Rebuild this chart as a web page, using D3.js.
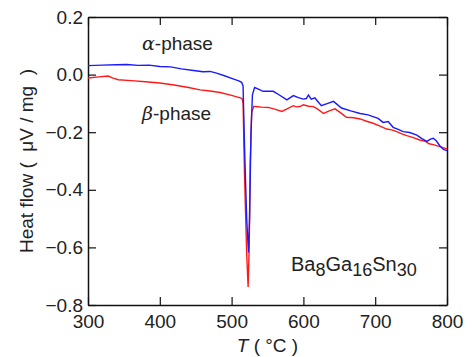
<!DOCTYPE html>
<html>
<head>
<meta charset="utf-8">
<script src="https://cdn.jsdelivr.net/npm/d3@7"></script>
<style>
  body { margin: 0; background: #fff; }
  text { font-family: "Liberation Sans", Arial, sans-serif; fill: #222; }
</style>
</head>
<body>
<svg id="chart" width="472" height="357"></svg>
<script>
// alpha-phase (blue) : [T, heat flow]
const alphaPhase = [
  [300, 0.031], [320, 0.033], [340, 0.034], [354, 0.035], [370, 0.032], [385, 0.033],
  [400, 0.028], [415, 0.027], [430, 0.020], [447, 0.014], [460, 0.010], [470, 0.011],
  [479, 0.005], [490, -0.004], [502, -0.015], [510, -0.022], [514, -0.027], [516, -0.04],
  [518, -0.25], [521, -0.5], [523.5, -0.618], [525, -0.5], [527, -0.2], [529, -0.07],
  [532, -0.045], [535, -0.048], [544, -0.058], [558, -0.058], [566, -0.07], [577, -0.088],
  [586, -0.073], [593, -0.08], [600, -0.085], [604, -0.083], [607, -0.071], [611, -0.085],
  [616, -0.081], [625, -0.108], [634, -0.100], [642, -0.093], [653, -0.116], [666, -0.126],
  [679, -0.135], [690, -0.14], [697, -0.146], [704, -0.152], [711, -0.166], [718, -0.163],
  [725, -0.183], [732, -0.19], [739, -0.198], [748, -0.201], [758, -0.210], [765, -0.222],
  [772, -0.232], [777, -0.224], [781, -0.221], [785, -0.230], [790, -0.247], [795, -0.260],
  [800, -0.264]
];

// beta-phase (red)
const betaPhase = [
  [300, -0.012], [315, -0.008], [328, -0.005], [335, -0.012], [342, -0.018], [360, -0.021],
  [380, -0.025], [400, -0.029], [420, -0.036], [440, -0.045], [456, -0.053], [470, -0.057],
  [484, -0.062], [500, -0.072], [512, -0.081], [514.5, -0.083], [516, -0.1], [518, -0.35],
  [521, -0.62], [523, -0.737], [524.5, -0.6], [526, -0.3], [528, -0.13], [531, -0.11],
  [533, -0.111], [542, -0.113], [551, -0.114], [560, -0.12], [570, -0.128], [578, -0.118],
  [586, -0.108], [590, -0.112], [595, -0.111], [600, -0.105], [607, -0.11], [614, -0.111],
  [620, -0.12], [628, -0.135], [636, -0.126], [644, -0.119], [652, -0.133], [660, -0.148],
  [670, -0.15], [679, -0.154], [688, -0.162], [697, -0.169], [706, -0.178], [716, -0.189],
  [723, -0.192], [730, -0.198], [737, -0.206], [744, -0.212], [752, -0.218], [762, -0.227],
  [770, -0.232], [775, -0.240], [781, -0.243], [790, -0.250], [800, -0.258]
];

const xTicks = [300, 400, 500, 600, 700, 800];
const yTicks = [0.2, 0.0, -0.2, -0.4, -0.6, -0.8];

const svg = d3.select("#chart");
const margin = { top: 17, right: 25, bottom: 52, left: 88 },
  width = 472 - margin.left - margin.right,
  height = 357 - margin.top - margin.bottom;

const g = svg.append("g")
  .attr("transform", "translate(" + margin.left + "," + margin.top + ")");

const x = d3.scaleLinear().domain([300, 800]).range([0, width]);
const y = d3.scaleLinear().domain([-0.8, 0.2]).range([height, 0]);

const tickLen = 8;

function styleAxis(sel) {
  sel.select(".domain").attr("stroke", "#111").attr("stroke-width", 1.5);
  sel.selectAll(".tick line").attr("stroke", "#111").attr("stroke-width", 1.2);
  sel.selectAll(".tick text")
    .style("font-size", "19px")
    .attr("fill", "#222");
}

// bottom axis
g.append("g")
  .attr("transform", "translate(0," + height + ")")
  .call(d3.axisBottom(x).tickValues(xTicks).tickSizeInner(-tickLen).tickSizeOuter(0).tickPadding(10).tickFormat(d3.format("d")))
  .call(styleAxis);

// top axis
g.append("g")
  .call(d3.axisTop(x).tickValues(xTicks).tickSizeInner(-tickLen).tickSizeOuter(0).tickFormat(""))
  .call(styleAxis);

// left axis
g.append("g")
  .call(d3.axisLeft(y).tickValues(yTicks).tickSizeInner(-tickLen).tickSizeOuter(0).tickPadding(5).tickFormat(d3.format(".1f")))
  .call(styleAxis);

// right axis
g.append("g")
  .attr("transform", "translate(" + width + ",0)")
  .call(d3.axisRight(y).tickValues(yTicks).tickSizeInner(-tickLen).tickSizeOuter(0).tickFormat(""))
  .call(styleAxis);

const line = d3.line()
  .x(function (d) { return x(d[0]); })
  .y(function (d) { return y(d[1]); });

g.append("path")
  .datum(betaPhase)
  .attr("fill", "none")
  .attr("stroke", "#ff1a1a")
  .attr("stroke-width", 1.4)
  .attr("d", line);

g.append("path")
  .datum(alphaPhase)
  .attr("fill", "none")
  .attr("stroke", "#1a1aff")
  .attr("stroke-width", 1.4)
  .attr("d", line);

// phase labels
const aLabel = g.append("text")
  .attr("x", 54)
  .attr("y", 33)
  .style("font-size", "19px");
aLabel.append("tspan").style("font-family", "'DejaVu Serif', serif").style("font-style", "italic").text("α");
aLabel.append("tspan").text("-phase");

const bLabel = g.append("text")
  .attr("x", 54)
  .attr("y", 103)
  .style("font-size", "19px");
bLabel.append("tspan").style("font-family", "'DejaVu Serif', serif").style("font-style", "italic").text("β");
bLabel.append("tspan").text("-phase");

// compound label
const comp = g.append("text")
  .attr("x", 203)
  .attr("y", 254)
  .style("font-size", "20px");
comp.append("tspan").text("Ba");
comp.append("tspan").attr("dy", 5).style("font-size", "18px").text("8");
comp.append("tspan").attr("dy", -5).text("Ga");
comp.append("tspan").attr("dy", 5).style("font-size", "18px").text("16");
comp.append("tspan").attr("dy", -5).text("Sn");
comp.append("tspan").attr("dy", 5).style("font-size", "18px").text("30");

// axis titles
const xt = svg.append("text")
  .attr("x", margin.left + width / 2)
  .attr("y", 352)
  .attr("text-anchor", "middle")
  .style("font-size", "19px")
  .style("white-space", "pre");
xt.append("tspan").style("font-style", "italic").text("T");
xt.append("tspan").text(" ( °C )");

svg.append("text")
  .attr("transform", "translate(33," + (margin.top + height / 2) + ") rotate(-90)")
  .attr("text-anchor", "middle")
  .style("font-size", "19px")
  .style("white-space", "pre")
  .text("Heat flow (  μV / mg  )");
</script>
</body>
</html>
